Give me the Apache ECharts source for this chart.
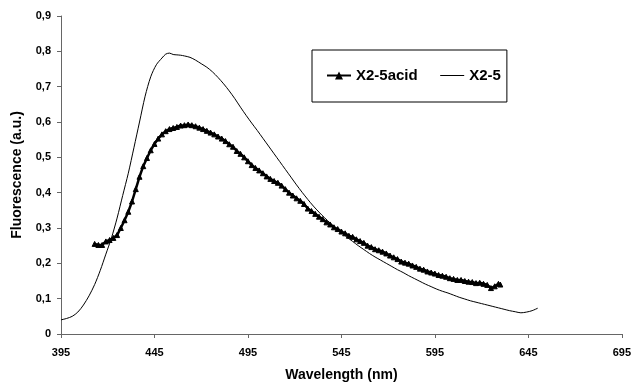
<!DOCTYPE html>
<html>
<head>
<meta charset="utf-8">
<script src="https://cdn.jsdelivr.net/npm/echarts@6/dist/echarts.min.js"></script>
<style>html,body{margin:0;padding:0;background:#fff}#c{width:634px;height:387px}</style>
</head>
<body>
<div id="c"></div>
<script>
var xTicks = [395, 445, 495, 545, 595, 645, 695];
var yTicks = [0, 0.1, 0.2, 0.3, 0.4, 0.5, 0.6, 0.7, 0.8, 0.9];

var acidWl = [413,415,417,419,421,423,425,427,429,431,433,435,437,439,441,443,445,447,449,451,453,455,457,459,461,463,465,467,469,471,473,475,477,479,481,483,485,487,489,491,493,495,497,499,501,503,505,507,509,511,513,515,517,519,521,523,525,527,529,531,533,535,537,539,541,543,545,547,549,551,553,555,557,559,561,563,565,567,569,571,573,575,577,579,581,583,585,587,589,591,593,595,597,599,601,603,605,607,609,611,613,615,617,619,621,623,625,627,629,630];
var acidVal = [0.255,0.252,0.252,0.262,0.266,0.272,0.280,0.300,0.322,0.346,0.375,0.410,0.445,0.475,0.498,0.520,0.538,0.553,0.565,0.574,0.580,0.583,0.586,0.590,0.591,0.593,0.591,0.588,0.584,0.580,0.575,0.570,0.565,0.559,0.553,0.546,0.537,0.530,0.518,0.510,0.500,0.489,0.478,0.470,0.463,0.455,0.446,0.439,0.433,0.428,0.420,0.410,0.400,0.392,0.384,0.377,0.368,0.355,0.348,0.340,0.332,0.325,0.316,0.310,0.302,0.297,0.290,0.285,0.278,0.275,0.268,0.263,0.258,0.250,0.246,0.240,0.237,0.233,0.228,0.222,0.217,0.212,0.205,0.202,0.199,0.194,0.190,0.185,0.182,0.177,0.174,0.171,0.167,0.165,0.162,0.158,0.156,0.153,0.153,0.150,0.148,0.147,0.144,0.145,0.142,0.139,0.130,0.135,0.142,0.140];

var x25Wl = [395,398,401,404,407,410,413,416,419,422,425,428,431,434,437,440,443,446,449,451,453,455,457,459,461,464,467,470,473,476,479,482,485,488,491,494,497,500,503,506,509,512,515,518,521,524,527,530,533,536,539,542,545,548,551,554,557,560,563,566,569,572,575,578,581,584,587,590,593,596,599,602,605,608,611,614,617,620,623,626,629,632,635,638,641,644,647,650];
var x25Val = [0.040,0.044,0.050,0.062,0.082,0.108,0.140,0.180,0.226,0.272,0.328,0.392,0.455,0.527,0.600,0.673,0.728,0.762,0.781,0.792,0.795,0.791,0.790,0.789,0.787,0.783,0.775,0.765,0.755,0.742,0.726,0.708,0.688,0.666,0.642,0.619,0.597,0.576,0.554,0.532,0.510,0.488,0.466,0.444,0.422,0.401,0.381,0.362,0.345,0.329,0.314,0.300,0.287,0.274,0.262,0.250,0.239,0.228,0.218,0.209,0.200,0.191,0.182,0.174,0.165,0.157,0.149,0.141,0.134,0.127,0.121,0.116,0.110,0.104,0.099,0.094,0.090,0.086,0.082,0.078,0.074,0.070,0.066,0.063,0.060,0.062,0.066,0.073];

var seriesNames = ['X2-5acid', 'X2-5'];

function pairs(xs, ys) { return xs.map(function (x, i) { return [x, ys[i]]; }); }

var font = 'Liberation Sans, Arial, sans-serif';
var chart = echarts.init(document.getElementById('c'), null, { renderer: 'canvas' });
chart.setOption({
  animation: false,
  backgroundColor: '#fff',
  textStyle: { fontFamily: font, color: '#000' },
  grid: { left: 61, right: 11, top: 16, bottom: 53 },
  legend: {
    left: 312, top: 50,
    orient: 'horizontal',
    borderColor: '#000', borderWidth: 1,
    padding: [18, 6, 19, 14],
    itemGap: 22, itemWidth: 24, itemHeight: 10,
    textStyle: { fontFamily: font, fontSize: 15, fontWeight: 'bold', color: '#000' },
    data: [
      { name: seriesNames[0] },
      { name: seriesNames[1], itemStyle: { opacity: 0 }, lineStyle: { width: 1, color: '#000' } }
    ]
  },
  xAxis: {
    type: 'value', min: xTicks[0], max: xTicks[xTicks.length - 1], interval: 50,
    name: 'Wavelength (nm)', nameLocation: 'middle', nameGap: 34,
    nameTextStyle: { fontFamily: font, fontSize: 14, fontWeight: 'bold', color: '#000' },
    axisLine: { lineStyle: { color: '#666', width: 1 } },
    axisTick: { show: true, inside: false, length: 4, lineStyle: { color: '#666' } },
    axisLabel: { margin: 13, fontFamily: font, fontSize: 11, fontWeight: 'bold', color: '#000' },
    splitLine: { show: false }
  },
  yAxis: {
    type: 'value', min: yTicks[0], max: yTicks[yTicks.length - 1], interval: 0.1,
    name: 'Fluorescence (a.u.)', nameLocation: 'middle', nameGap: 37,
    nameTextStyle: { fontFamily: font, fontSize: 14, fontWeight: 'bold', color: '#000' },
    axisLine: { show: true, lineStyle: { color: '#666', width: 1 } },
    axisTick: { show: true, inside: false, length: 4, lineStyle: { color: '#666' } },
    axisLabel: {
      margin: 10, fontFamily: font, fontSize: 11, fontWeight: 'bold', color: '#000',
      formatter: function (v) { return (Math.round(v * 10) / 10).toString().replace('.', ','); }
    },
    splitLine: { show: false }
  },
  series: [
    {
      name: seriesNames[0], type: 'line',
      data: pairs(acidWl, acidVal),
      symbol: 'triangle', symbolSize: 5, showSymbol: true,
      lineStyle: { color: '#000', width: 2.5 },
      itemStyle: { color: '#000', borderColor: '#000' },
      z: 3
    },
    {
      name: seriesNames[1], type: 'line',
      data: pairs(x25Wl, x25Val),
      symbol: 'none', smooth: 0.3,
      lineStyle: { color: '#000', width: 1 },
      itemStyle: { color: '#000' },
      z: 2
    }
  ]
});
</script>
</body>
</html>
